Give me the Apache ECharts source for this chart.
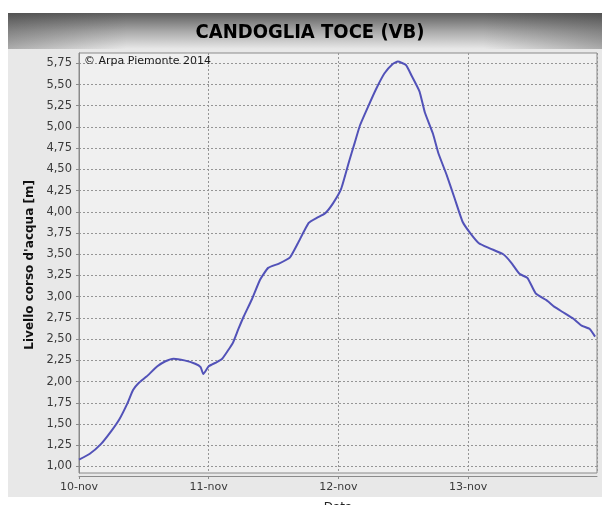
<!DOCTYPE html>
<html><head><meta charset="utf-8">
<script src="https://cdn.jsdelivr.net/npm/echarts@6/dist/echarts.min.js"></script>
<style>html,body{margin:0;padding:0;background:#fff}#c{width:610px;height:505px}</style>
</head><body><div id="c"></div>
<script>
const titleText = 'CANDOGLIA TOCE (VB)';
const creditText = '\u00A9 Arpa Piemonte 2014';
const yAxisName = "Livello corso d'acqua [m]";
const xAxisName = 'Data';
const dayLabels = ['10-nov', '11-nov', '12-nov', '13-nov'];
const yLabels = ['1,00','1,25','1,50','1,75','2,00','2,25','2,50','2,75','3,00','3,25','3,50','3,75','4,00','4,25','4,50','4,75','5,00','5,25','5,50','5,75'];
// hours after 10-nov 00:00
const hours = [0, 2, 4, 6, 7.5, 9, 10, 11, 12.5, 14.5, 16, 17.5, 19.5, 21.5, 22.5, 23, 24, 25.5, 26.5, 27.5, 28.5, 29.5, 30.5, 32, 33.5, 35, 37, 39, 40.5, 42.5, 44, 45.5, 47, 48.5, 50, 51, 52, 53.5, 55, 56.5, 58, 59, 60.5, 61.5, 63, 64, 65.5, 66.5, 68, 69.5, 71, 72.5, 74, 76, 78.5, 80, 81.5, 83, 84.5, 86.5, 88, 89.5, 91.5, 93, 94.5, 95.5];
const levels = [1.08, 1.15, 1.26, 1.42, 1.56, 1.75, 1.90, 1.98, 2.06, 2.18, 2.24, 2.27, 2.25, 2.21, 2.17, 2.09, 2.18, 2.23, 2.27, 2.36, 2.46, 2.62, 2.77, 2.97, 3.20, 3.34, 3.39, 3.46, 3.63, 3.87, 3.93, 3.98, 4.10, 4.27, 4.60, 4.81, 5.02, 5.24, 5.45, 5.63, 5.74, 5.77, 5.73, 5.61, 5.42, 5.17, 4.92, 4.69, 4.44, 4.16, 3.88, 3.74, 3.63, 3.57, 3.50, 3.40, 3.27, 3.22, 3.04, 2.96, 2.88, 2.82, 2.74, 2.66, 2.62, 2.53];

const chart = echarts.init(document.getElementById('c'), null, {renderer: 'canvas'});
const XMAX = 95.85;
const labelColor = '#3a3a3a';
const gridColor = '#959595';
chart.setOption({
  animation: false,
  backgroundColor: '#ffffff',
  graphic: [
    {type: 'rect', z: -20, silent: true, shape: {x: 8, y: 13, width: 594, height: 484}, style: {fill: '#e8e8e8'}},
    {type: 'rect', z: -19, silent: true, shape: {x: 8, y: 13, width: 594, height: 36},
      style: {fill: new echarts.graphic.LinearGradient(0, 0, 0, 1, [{offset: 0, color: '#5e5e5e'}, {offset: 0.5, color: '#a8a8a8'}, {offset: 1, color: '#e8e8e8'}])}},
    {type: 'rect', z: -18, silent: true, shape: {x: 8, y: 13, width: 594, height: 36},
      style: {fill: new echarts.graphic.LinearGradient(0, 0, 1, 0, [{offset: 0, color: 'rgba(60,60,60,0.35)'}, {offset: 0.2, color: 'rgba(60,60,60,0)'}, {offset: 0.8, color: 'rgba(60,60,60,0)'}, {offset: 1, color: 'rgba(60,60,60,0.35)'}])}},
    {type: 'text', z: 10, x: 310, y: 33, style: {text: titleText, fill: '#000', font: 'bold 20px "DejaVu Sans Condensed", "DejaVu Sans"', textAlign: 'center', textVerticalAlign: 'middle'}},
    {type: 'text', z: 10, x: 84, y: 61, style: {text: creditText, fill: '#1a1a1a', font: '11px "DejaVu Sans"', textAlign: 'left', textVerticalAlign: 'middle'}}
  ],
  grid: [
    {left: 79, right: 13, top: 53, bottom: 32, show: true, backgroundColor: '#f0f0f0', borderColor: '#8a8a8a', borderWidth: 1, containLabel: false, outerBoundsMode: 'none'},
    {left: 79, right: 13, top: 63.3, bottom: 38.5, show: false, containLabel: false, outerBoundsMode: 'none'}
  ],
  xAxis: [
    {type: 'value', gridIndex: 0, min: 0, max: XMAX, interval: 24, offset: 3,
      name: xAxisName, nameLocation: 'middle', nameGap: 26,
      nameTextStyle: {color: '#222', fontSize: 12, fontFamily: 'DejaVu Sans'},
      axisLine: {show: true, lineStyle: {color: '#8a8a8a', width: 1}},
      axisTick: {show: true, length: 3, lineStyle: {color: '#8a8a8a'}},
      axisLabel: {show: true, color: labelColor, fontSize: 11, fontFamily: 'DejaVu Sans', margin: 6,
        showMaxLabel: false,
        formatter: function (v) { const i = Math.round(v / 24); return dayLabels[i] || ''; }},
      splitLine: {show: true, lineStyle: {color: gridColor, type: [2, 2], width: 1}}},
    {type: 'value', gridIndex: 1, min: 0, max: XMAX, interval: 24, show: false}
  ],
  yAxis: [
    {type: 'value', gridIndex: 0, min: 0.92, max: 5.87, offset: 3,
      axisLine: {show: true, lineStyle: {color: '#8a8a8a', width: 1}},
      axisTick: {show: false}, axisLabel: {show: false}, splitLine: {show: false}},
    {type: 'value', gridIndex: 1, min: 1, max: 5.75, interval: 0.25, offset: 3,
      name: yAxisName, nameLocation: 'middle', nameRotate: 90, nameGap: 36,
      nameTextStyle: {color: '#111', fontSize: 12, fontWeight: 'bold', fontFamily: 'DejaVu Sans'},
      axisLine: {show: false},
      axisTick: {show: true, length: 3, lineStyle: {color: '#8a8a8a'}},
      axisLabel: {show: true, color: labelColor, fontSize: 11.5, fontFamily: 'DejaVu Sans', margin: 4,
        formatter: function (v, idx) { return yLabels[idx]; }},
      splitLine: {show: true, lineStyle: {color: gridColor, type: [2, 2], width: 1}}}
  ],
  series: [{
    type: 'line', xAxisIndex: 1, yAxisIndex: 1, clip: false, z: 5,
    data: hours.map((h, i) => [h, levels[i]]),
    showSymbol: false, smooth: 0.15,
    lineStyle: {color: '#5252b8', width: 2}
  }]
});
</script></body></html>
